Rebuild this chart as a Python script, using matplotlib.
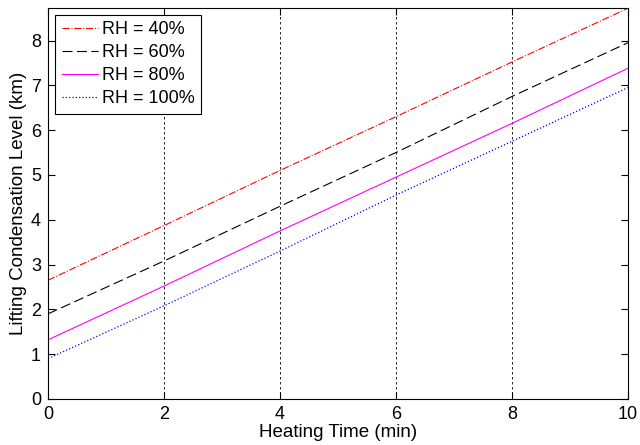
import matplotlib
matplotlib.use("Agg")
import matplotlib.pyplot as plt

plt.rcParams['font.family'] = ['Liberation Sans', 'DejaVu Sans']

time_min = [0, 2, 4, 6, 8, 10]
lcl_rh40 = [2.65, 3.87, 5.10, 6.30, 7.52, 8.72]
lcl_rh60 = [1.90, 3.08, 4.30, 5.50, 6.75, 7.95]
lcl_rh80 = [1.32, 2.52, 3.75, 4.95, 6.15, 7.38]
lcl_rh100 = [0.90, 2.08, 3.30, 4.55, 5.75, 6.95]
labels = ['RH = 40%', 'RH = 60%', 'RH = 80%', 'RH = 100%']

fig = plt.figure(figsize=(6.4, 4.45), dpi=100)
ax = fig.add_axes([0.075, 0.1034, 0.906, 0.879])

ax.plot(time_min, lcl_rh40, color='red', ls='-.', lw=0.8, label=labels[0])
ax.plot(time_min, lcl_rh60, color='black', ls=(0, (9, 4)), lw=0.8, label=labels[1])
ax.plot(time_min, lcl_rh80, color='magenta', ls='-', lw=0.8, label=labels[2])
ax.plot(time_min, lcl_rh100, color='blue', ls=':', lw=0.9, label=labels[3])

ax.set_xlim(0, 10)
ax.set_ylim(0, 8.73)
ax.set_xticks(range(0, 11, 2))
ax.set_yticks(range(0, 9))
ax.xaxis.grid(True, color='black', ls=(0, (3, 3)), lw=0.6)
ax.tick_params(direction='in', top=True, right=True, labelsize=13, length=5, pad=5)
for s in ax.spines.values():
    s.set_linewidth(0.8)

ax.set_xlabel('Heating Time (min)', fontsize=13.5, labelpad=1)
ax.set_ylabel('Lifting Condensation Level (km)', fontsize=13.5, labelpad=3)

leg = ax.legend(loc='upper left', fontsize=13, fancybox=False, edgecolor='black',
                framealpha=1, handlelength=2, handletextpad=0.25, borderpad=0.35,
                labelspacing=0.33, borderaxespad=0.4)
leg.get_frame().set_linewidth(0.8)

fig.savefig('out.png', dpi=100)
